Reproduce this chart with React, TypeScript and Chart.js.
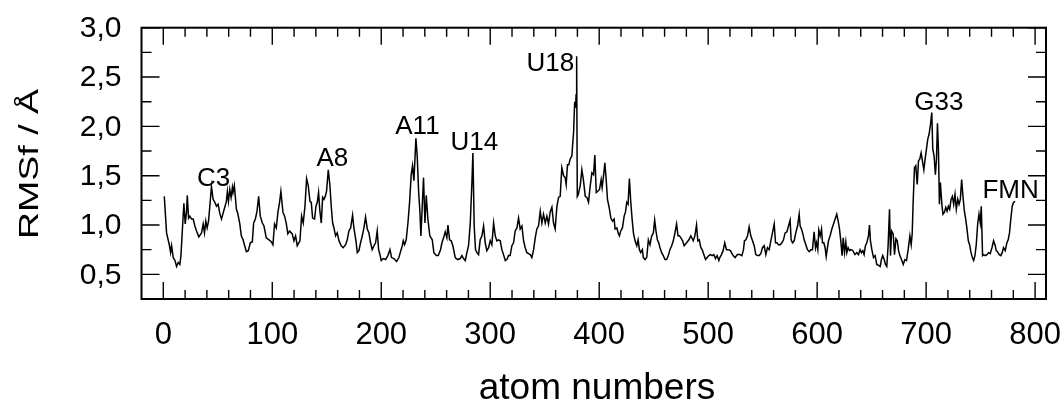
import React, { useEffect, useRef } from "react";
import { Chart, registerables } from "chart.js";

Chart.register(...registerables);

// ---- data ----
const atomNumbers = [
  0.9, 3.0, 5.5, 6.7, 7.6, 9.1, 10.7, 12.2, 13.7, 15.2, 16.2, 17.7, 18.9, 20.1, 21.3, 22.0, 23.2, 24.4, 25.9, 27.4,
  29.0, 30.5, 32.6, 35.1, 36.6, 37.8, 39.0, 40.2, 41.5, 42.7, 44.2, 45.7, 47.3, 48.8, 50.3, 51.8, 53.4, 54.9, 56.4, 57.9,
  58.8, 59.8, 61.0, 62.2, 63.4, 64.0, 65.2, 67.1, 68.3, 70.1, 71.6, 73.2, 74.7, 76.2, 78.0, 79.9, 81.7, 82.9, 84.5, 86.0,
  87.5, 89.0, 90.9, 92.4, 94.5, 97.0, 99.1, 100.6, 102.1, 103.7, 105.2, 106.7, 107.9, 109.8, 111.3, 112.8, 114.3, 115.9,
  118.3, 119.9, 121.4, 122.9, 125.4, 126.9, 128.4, 130.0, 131.5, 133.0, 134.6, 135.8, 137.0, 138.8, 140.1, 141.3, 142.5,
  143.7, 145.0, 146.2, 147.4, 148.6, 149.8, 151.4, 152.9, 154.1, 155.4, 156.6, 158.1, 159.6, 161.2, 163.3, 165.1, 167.3,
  168.8, 170.3, 171.9, 173.7, 174.9, 176.8, 178.0, 179.5, 181.0, 182.6, 184.1, 185.6, 187.2, 188.7, 190.2, 191.7, 193.3,
  194.8, 196.3, 197.6, 198.8, 200.0, 201.8, 204.0, 206.1, 208.0, 209.5, 211.6, 214.1, 216.2, 217.7, 219.3, 220.2, 221.4,
  222.9, 224.5, 226.0, 227.5, 228.7, 230.0, 231.8, 233.0, 234.3, 235.5, 236.4, 237.6, 238.8, 240.1, 241.3, 242.8, 244.6,
  246.8, 248.3, 250.5, 252.3, 254.4, 255.7, 257.2, 258.7, 260.2, 261.2, 262.7, 264.2, 265.7, 267.9, 270.0, 272.5, 274.0,
  275.5, 277.1, 278.6, 280.1, 281.7, 283.2, 284.1, 285.3, 286.5, 287.8, 289.3, 290.8, 292.4, 293.9, 295.4, 296.9, 298.5,
  300.0, 301.5, 303.1, 304.6, 306.1, 307.6, 309.2, 310.7, 312.2, 313.8, 315.3, 316.8, 318.3, 319.9, 321.4, 322.9, 324.5,
  326.0, 327.5, 329.1, 330.6, 332.1, 333.6, 335.2, 336.7, 338.2, 339.8, 341.3, 342.8, 344.3, 345.9, 347.4, 348.9, 350.5,
  352.0, 353.5, 355.0, 356.6, 358.1, 359.6, 361.2, 362.7, 364.2, 365.7, 367.3, 368.8, 369.7, 370.9, 372.1, 373.4, 374.9,
  376.5, 377.5, 378.3, 378.8, 379.3, 379.9, 380.8, 382.6, 384.1, 385.6, 387.2, 388.7, 390.2, 391.8, 393.3, 394.8, 396.0,
  397.3, 398.5, 400.3, 401.8, 402.7, 404.0, 405.2, 406.4, 407.6, 409.1, 410.7, 412.2, 413.7, 414.6, 416.2, 417.7, 418.6,
  419.8, 421.3, 422.9, 424.1, 425.3, 426.5, 427.7, 429.0, 430.2, 431.4, 432.9, 434.5, 435.7, 436.9, 438.1, 439.6, 440.5,
  442.1, 443.6, 445.1, 446.6, 448.2, 449.7, 450.9, 452.1, 453.4, 454.6, 455.8, 457.3, 458.8, 460.4, 461.9, 463.4, 464.9,
  466.5, 468.0, 469.5, 471.0, 472.3, 473.5, 475.0, 476.5, 478.0, 480.2, 482.3, 484.1, 486.3, 487.8, 489.3, 490.5, 491.8,
  493.3, 494.5, 496.0, 497.6, 499.1, 500.6, 502.1, 503.7, 505.2, 506.7, 508.2, 509.8, 510.7, 512.2, 513.7, 515.2, 516.8,
  518.3, 520.4, 522.9, 524.7, 526.8, 529.0, 530.9, 532.4, 533.3, 534.6, 536.1, 537.6, 539.1, 540.7, 542.2, 543.7, 545.3,
  546.8, 548.3, 549.8, 551.4, 552.9, 554.4, 556.0, 557.5, 559.0, 560.6, 561.8, 563.0, 564.5, 566.1, 567.6, 569.1, 570.6,
  572.2, 573.7, 575.2, 576.1, 577.4, 578.9, 580.4, 582.0, 583.5, 584.4, 585.6, 586.9, 588.1, 589.6, 591.1, 592.7, 594.2,
  595.7, 597.2, 598.5, 599.4, 600.6, 601.5, 602.8, 604.0, 604.9, 606.1, 607.3, 608.3, 609.2, 610.4, 611.9, 613.5, 615.0,
  616.5, 618.0, 619.3, 620.5, 621.7, 622.9, 623.9, 625.1, 626.3, 627.2, 628.4, 629.7, 630.9, 632.7, 634.6, 636.4, 637.9,
  639.4, 640.7, 641.9, 643.1, 644.3, 645.6, 647.1, 648.0, 648.9, 650.2, 651.7, 653.2, 654.7, 656.3, 657.8, 659.0, 660.2,
  661.5, 662.7, 663.9, 665.1, 666.4, 667.3, 668.3, 669.8, 671.0, 672.3, 673.5, 674.7, 675.9, 677.4, 679.0, 680.5, 682.0,
  683.5, 685.1, 686.3, 687.2, 688.1, 689.3, 690.5, 691.8, 693.0, 694.2, 695.4, 696.6, 697.9, 699.1, 700.3, 701.5, 702.7,
  704.0, 705.2, 706.1, 707.3, 708.5, 709.5, 710.4, 711.3, 712.2, 713.1, 713.7, 714.6, 715.5, 716.8, 718.0, 719.2, 720.4,
  721.6, 722.9, 724.1, 725.3, 726.5, 727.7, 729.0, 730.2, 731.4, 732.6, 733.8, 735.1, 736.3, 737.5, 738.7, 739.9, 741.2,
  742.4, 743.6, 744.8, 746.0, 747.3, 748.5, 749.7, 750.6, 751.8, 752.7, 754.3, 755.8, 757.3, 758.8, 760.4, 761.9, 763.4,
  764.3, 765.5, 767.1, 768.6, 769.8, 771.0, 772.6, 774.1, 775.3, 776.5, 777.7, 779.0, 780.2, 781.7, 782.9,
];

const rmsf = [
  1.29, 0.92, 0.80, 0.72, 0.79, 0.67, 0.64, 0.58, 0.62, 0.60, 0.69, 0.99, 1.22, 1.01, 1.13, 1.30, 1.07, 1.09, 1.06, 1.06,
  0.99, 0.94, 0.88, 0.92, 1.01, 0.92, 1.04, 0.97, 1.04, 1.19, 1.39, 1.26, 1.23, 1.19, 1.21, 1.12, 1.06, 1.12, 1.18, 1.24,
  1.34, 1.24, 1.36, 1.28, 1.38, 1.33, 1.40, 1.16, 1.12, 1.02, 0.89, 0.85, 0.79, 0.73, 0.74, 0.82, 0.83, 1.02, 1.06, 1.14,
  1.29, 1.09, 1.02, 0.99, 0.87, 0.85, 0.83, 0.80, 1.01, 0.97, 1.13, 1.23, 1.34, 1.13, 1.09, 1.02, 0.91, 0.94,
  0.91, 0.84, 0.89, 0.79, 0.84, 1.09, 1.02, 1.19, 1.47, 1.40, 1.24, 1.23, 1.07, 1.06, 1.19, 1.23, 1.33,
  1.14, 1.02, 1.28, 1.26, 1.29, 1.34, 1.56, 1.40, 1.19, 1.02, 0.97, 0.89, 0.92, 0.84, 0.79, 0.77, 0.80,
  0.85, 0.94, 0.97, 1.10, 0.97, 0.84, 0.72, 0.74, 0.82, 0.89, 0.97, 1.08, 0.96, 0.92, 0.82, 0.75, 0.79,
  0.82, 0.94, 0.75, 0.70, 0.64, 0.66, 0.65, 0.69, 0.75, 0.67, 0.66, 0.63, 0.67, 0.73, 0.79, 0.84, 0.80,
  0.85, 1.02, 1.23, 1.51, 1.60, 1.45, 1.88, 1.70, 1.34, 1.13, 0.89, 1.19, 1.48, 1.02, 1.30, 1.06, 0.89,
  0.85, 0.72, 0.69, 0.69, 0.75, 0.82, 0.87, 0.93, 0.87, 1.00, 0.85, 0.84, 0.79, 0.67, 0.65, 0.66, 0.69,
  0.66, 0.64, 0.72, 0.79, 1.02, 1.43, 1.73, 0.99, 0.75, 0.72, 0.70, 0.85, 0.89, 0.99, 0.82, 0.74, 0.77,
  0.84, 0.80, 1.02, 0.89, 0.84, 0.85, 0.84, 0.75, 0.70, 0.64, 0.65, 0.69, 0.69, 0.79, 0.82, 0.94, 0.97,
  1.07, 0.96, 0.99, 0.84, 0.77, 0.72, 0.71, 0.70, 0.67, 0.75, 0.87, 0.96, 0.99, 1.14, 1.02, 1.11, 1.02,
  1.09, 1.01, 1.13, 1.18, 1.02, 0.96, 1.19, 1.28, 1.29, 1.58, 1.50, 1.48, 1.41, 1.61, 1.61, 1.67, 1.70,
  1.94, 2.25, 2.19, 2.32, 2.71, 1.29, 1.31, 1.40, 1.56, 1.45, 1.29, 1.28, 1.23, 1.40, 1.53, 1.51,
  1.71, 1.33, 1.34, 1.36, 1.46, 1.38, 1.50, 1.63, 1.46, 1.26, 1.18, 1.07, 1.04, 1.06, 0.96, 0.97, 0.91,
  0.89, 0.94, 0.97, 1.09, 1.13, 1.23, 1.21, 1.47, 1.23, 1.06, 0.92, 0.84, 0.79, 0.85, 0.75, 0.72, 0.75,
  0.67, 0.65, 0.67, 0.85, 0.80, 0.89, 0.92, 1.05, 0.94, 0.85, 0.82, 0.77, 0.72, 0.69, 0.65, 0.65, 0.69,
  0.75, 0.79, 0.84, 0.92, 1.01, 0.89, 0.89, 0.87, 0.84, 0.79, 0.82, 0.85, 0.89, 0.84, 0.89, 1.00, 0.84,
  0.85, 0.77, 0.75, 0.70, 0.65, 0.67, 0.69, 0.70, 0.69, 0.70, 0.66, 0.69, 0.64, 0.67, 0.70, 0.74, 0.82,
  0.75, 0.75, 0.74, 0.69, 0.67, 0.70, 0.70, 0.69, 0.75, 0.84, 0.85, 0.89, 0.98, 0.89, 0.84, 0.79, 0.70,
  0.69, 0.69, 0.71, 0.77, 0.79, 0.70, 0.77, 0.75, 0.84, 0.92, 1.01, 0.82, 0.82, 0.80, 0.80, 0.82, 0.85,
  0.92, 0.93, 0.99, 1.05, 0.85, 0.82, 0.84, 0.92, 0.99, 1.11, 0.99, 0.96, 0.91, 0.85, 0.80, 0.75, 0.73,
  0.75, 0.75, 0.93, 0.77, 0.82, 0.75, 0.95, 0.89, 0.96, 0.82, 0.82, 0.77, 0.68, 0.75, 0.84, 0.89, 0.96,
  1.01, 1.06, 1.11, 1.04, 0.96, 0.84, 0.69, 0.87, 0.72, 0.83, 0.72, 0.77, 0.74, 0.75, 0.74, 0.70, 0.72,
  0.70, 0.75, 0.72, 0.74, 0.70, 0.79, 0.82, 0.89, 1.00, 0.84, 0.75, 0.67, 0.69, 0.60, 0.59, 0.58, 0.65,
  0.69, 0.65, 0.60, 0.58, 0.79, 1.16, 0.69, 0.94, 0.91, 0.70, 0.86, 0.84, 0.74, 0.69, 0.65, 0.60, 0.65,
  0.64, 0.75, 0.89, 0.80, 0.91, 1.23, 1.58, 1.60, 1.41, 1.65, 1.67, 1.73, 1.65, 1.56, 1.67, 1.77, 1.87,
  1.92, 2.02, 2.14, 1.77, 1.70, 1.51, 1.67, 2.03, 1.77, 1.21, 1.43, 1.33, 1.19, 1.11, 1.13, 1.18, 1.14,
  1.19, 1.16, 1.26, 1.29, 1.21, 1.31, 1.16, 1.26, 1.21, 1.26, 1.46, 1.29, 1.14, 1.06, 0.96, 0.84, 0.80,
  0.72, 0.67, 0.64, 0.69, 0.80, 1.01, 1.11, 1.02, 1.19, 0.69, 0.70, 0.69, 0.70, 0.72, 0.71, 0.77, 0.84,
  0.79, 0.74, 0.73, 0.70, 0.69, 0.72, 0.77, 0.74, 0.82, 0.85, 0.92, 1.06, 1.19, 1.23, 1.24,
];

const xMajorTicks = [0, 100, 200, 300, 400, 500, 600, 700, 800];
const xTickLabels = ["0", "100", "200", "300", "400", "500", "600", "700", "800"];
const yMajorTicks = [0.5, 1.0, 1.5, 2.0, 2.5, 3.0];
const yTickLabels = ["0,5", "1,0", "1,5", "2,0", "2,5", "3,0"];

const peakLabels = ["C3", "A8", "A11", "U14", "U18", "G33", "FMN"];
const peakLabelAtom = [46.2, 155.2, 233.2, 285.5, 355.2, 711.7, 777.5];
const peakLabelRmsf = [1.395, 1.6, 1.92, 1.76, 2.56, 2.17, 1.27];

const xTitle = "atom numbers";
const yTitle = "RMSf / Å";

const FONT = '"Liberation Sans", Arial, Helvetica, sans-serif';

const framePlugin = {
  id: "frameAndText",
  afterDraw(chart: any) {
    const { ctx, chartArea: a, scales } = chart;
    const xs = scales.x;
    const ys = scales.y;
    ctx.save();
    ctx.strokeStyle = "#000";
    ctx.fillStyle = "#000";

    // x ticks (inside, top and bottom)
    ctx.lineWidth = 1.4;
    ctx.beginPath();
    for (let i = 0; i < xMajorTicks.length; i++) {
      const major = xMajorTicks[i];
      for (let k = 0; k < 5; k++) {
        const v = major + k * 20;
        if (v > 800) break;
        const px = xs.getPixelForValue(v);
        const len = k === 0 ? 17 : 9;
        ctx.moveTo(px, a.bottom);
        ctx.lineTo(px, a.bottom - len);
        ctx.moveTo(px, a.top);
        ctx.lineTo(px, a.top + len);
      }
    }
    // y ticks (inside, left and right)
    for (let i = 0; i < yMajorTicks.length; i++) {
      const major = yMajorTicks[i];
      for (let k = 0; k < 2; k++) {
        const v = major + k * 0.25;
        if (v > 3.0) break;
        const py = ys.getPixelForValue(v);
        const len = k === 0 ? 18 : 10;
        ctx.moveTo(a.left, py);
        ctx.lineTo(a.left + len, py);
        ctx.moveTo(a.right, py);
        ctx.lineTo(a.right - len, py);
      }
    }
    ctx.stroke();

    // frame
    ctx.lineWidth = 2;
    ctx.strokeRect(a.left, a.top, a.right - a.left, a.bottom - a.top);

    // x tick labels
    ctx.font = `31px ${FONT}`;
    ctx.textAlign = "center";
    ctx.textBaseline = "alphabetic";
    xMajorTicks.forEach((v, i) => {
      ctx.fillText(xTickLabels[i], xs.getPixelForValue(v), a.bottom + 45);
    });

    // y tick labels
    ctx.font = `30px ${FONT}`;
    ctx.textAlign = "right";
    ctx.textBaseline = "middle";
    yMajorTicks.forEach((v, i) => {
      ctx.fillText(yTickLabels[i], a.left - 20, ys.getPixelForValue(v) + 1);
    });

    // x title
    ctx.font = `37px ${FONT}`;
    ctx.textAlign = "center";
    ctx.textBaseline = "alphabetic";
    ctx.fillText(xTitle, 597, a.bottom + 100);

    // y title (rotated, stretched along its length)
    ctx.save();
    ctx.font = `28px ${FONT}`;
    const w = ctx.measureText(yTitle).width;
    ctx.translate(38, 164);
    ctx.rotate(-Math.PI / 2);
    ctx.scale(150 / w, 1);
    ctx.textAlign = "center";
    ctx.textBaseline = "alphabetic";
    ctx.fillText(yTitle, 0, 0);
    ctx.restore();

    // peak labels
    ctx.font = `26px ${FONT}`;
    ctx.textAlign = "center";
    ctx.textBaseline = "alphabetic";
    peakLabels.forEach((t, i) => {
      ctx.fillText(t, xs.getPixelForValue(peakLabelAtom[i]), ys.getPixelForValue(peakLabelRmsf[i]));
    });

    ctx.restore();
  },
};

export default function App() {
  const ref = useRef<HTMLCanvasElement | null>(null);
  useEffect(() => {
    if (!ref.current) return;
    const points = atomNumbers.map((x, i) => ({ x, y: rmsf[i] }));
    const chart = new Chart(ref.current, {
      type: "line",
      data: {
        datasets: [
          {
            data: points,
            borderColor: "#000",
            borderWidth: 1.5,
            pointRadius: 0,
            tension: 0,
            fill: false,
          },
        ],
      },
      options: {
        animation: false,
        responsive: false,
        events: [],
        layout: { padding: { left: 141.5, right: 16, top: 27.7, bottom: 111 } },
        plugins: { legend: { display: false }, tooltip: { enabled: false } },
        scales: {
          x: { type: "linear", min: -20, max: 810, display: false },
          y: { type: "linear", min: 0.25, max: 3.0, display: false },
        },
      },
      plugins: [framePlugin],
    });
    return () => chart.destroy();
  }, []);
  return (
    <div style={{ position: "absolute", left: 0, top: 0, width: 1062, height: 410, background: "#fff" }}>
      <canvas ref={ref} width={1062} height={410} style={{ display: "block" }} />
    </div>
  );
}
